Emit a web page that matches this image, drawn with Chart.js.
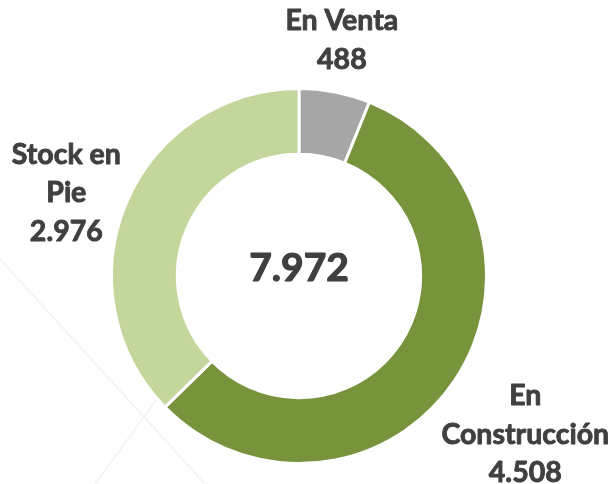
<!DOCTYPE html>
<html>
<head>
<meta charset="utf-8">
<script src="https://cdn.jsdelivr.net/npm/chart.js@4"></script>
<style>
  html, body { margin: 0; padding: 0; background: #ffffff; }
  #wrap { width: 614px; height: 484px; position: relative; }
</style>
</head>
<body>
<div id="wrap"><canvas id="c" width="614" height="484"></canvas></div>
<script>
const categories = [["En Venta"], ["En", "Construcción"], ["Stock en", "Pie"]];
const values = [488, 4508, 2976];
const valueLabels = ["488", "4.508", "2.976"];
const totalLabel = "7.972";
const colors = ["#A6A6A6", "#77933C", "#C3D69B"];

const labelDistance = [240, 276, 247];
const labelNudge = [[-3, 0], [-3, 5], [-5, 13]];
const FONT = "Lato";

const bgLines = {
  id: 'bgLines',
  beforeDraw(chart) {
    const ctx = chart.ctx;
    ctx.save();
    ctx.strokeStyle = 'rgba(0,0,0,0.045)';
    ctx.lineWidth = 2;
    ctx.beginPath();
    ctx.moveTo(0, 259); ctx.lineTo(205, 484);
    ctx.moveTo(95, 484); ctx.lineTo(160, 395);
    ctx.stroke();
    ctx.restore();
  }
};

function boldText(ctx, t, x, y) {
  ctx.fillText(t, x, y);
  ctx.strokeText(t, x, y);
}

const labelsPlugin = {
  id: 'labelsPlugin',
  afterDraw(chart) {
    const ctx = chart.ctx;
    const meta = chart.getDatasetMeta(0);
    ctx.save();
    ctx.fillStyle = '#404040';
    ctx.strokeStyle = '#404040';
    ctx.lineWidth = 0.9;
    ctx.lineJoin = 'round';
    ctx.textAlign = 'center';
    ctx.textBaseline = 'middle';
    const lh = 38.5;
    meta.data.forEach((arc, i) => {
      const p = arc.getProps(['x', 'y', 'startAngle', 'endAngle'], true);
      const mid = (p.startAngle + p.endAngle) / 2;
      const d = labelDistance[i];
      const cx = p.x + Math.cos(mid) * d + labelNudge[i][0];
      const cy = p.y + Math.sin(mid) * d + labelNudge[i][1];
      const lines = categories[i].concat([valueLabels[i]]);
      const y0 = cy - (lines.length - 1) * lh / 2;
      ctx.font = 'bold 28.5px ' + FONT;
      lines.forEach((t, k) => boldText(ctx, t, cx, y0 + k * lh));
    });
    const c = meta.data[0];
    ctx.font = 'bold 39px ' + FONT;
    ctx.lineWidth = 1.2;
    boldText(ctx, totalLabel, c.x, c.y - 8);
    ctx.restore();
  }
};

new Chart(document.getElementById('c'), {
  type: 'doughnut',
  data: {
    labels: categories.map(l => l.join(' ')),
    datasets: [{
      data: values,
      backgroundColor: colors,
      borderColor: '#ffffff',
      borderWidth: 3,
      hoverOffset: 0
    }]
  },
  options: {
    responsive: false,
    animation: false,
    radius: 187.5,
    cutout: 134,
    layout: { padding: { top: 68, bottom: 0, left: 0, right: 16 } },
    plugins: { legend: { display: false }, tooltip: { enabled: false }, title: { display: false } }
  },
  plugins: [bgLines, labelsPlugin]
});
</script>
</body>
</html>
